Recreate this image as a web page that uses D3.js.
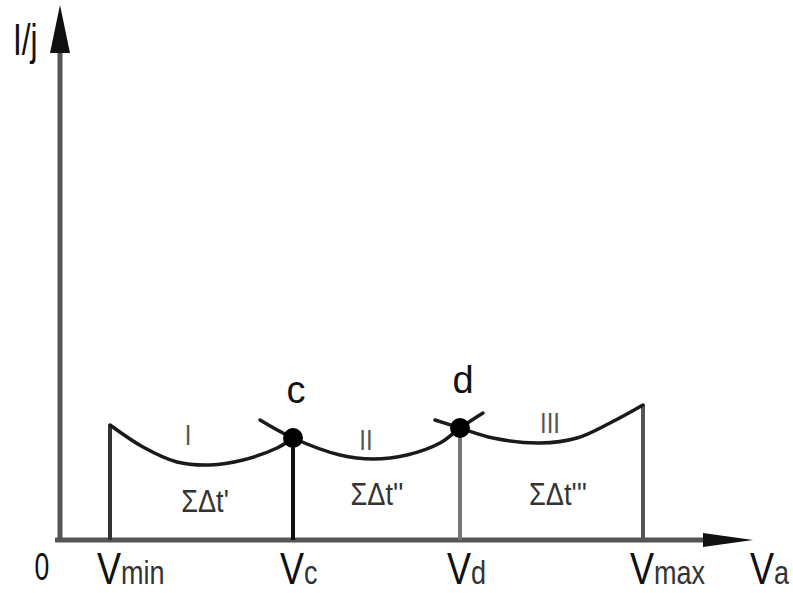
<!DOCTYPE html>
<html>
<head>
<meta charset="utf-8">
<script src="https://cdn.jsdelivr.net/npm/d3@7"></script>
<style>
  html, body { margin: 0; padding: 0; background: #fff; }
  svg { display: block; }
  text { font-family: "Liberation Sans", Arial, sans-serif; }
</style>
</head>
<body>
<svg id="chart" width="793" height="593"></svg>
<script>
// ---- data (schematic units) ----
const tickNames = ["V", "V", "V", "V"];
const tickSubs = ["min", "c", "d", "max"];
const tickValues = [50, 233, 400, 583];
const boundaryHeights = [115, 102, 112, 135];

const curveI = [[50,115],[83,93],[117,78],[150,75],[183,80],[217,92],[233,102]];
const curveII = [[200,120],[233,102],[280,85],[313,81],[347,85],[380,97],[400,112],[423,127]];
const curveIII = [[375,120],[400,112],[433,102],[480,97],[517,102],[550,117],[583,135]];

const pointNames = ["c", "d"];
const pointValues = [[233,102],[400,112]];

const regionNames = ["I", "II", "III"];
const regionPos = [[128,95],[306,90],[490,107]];
const sumNames = ["ΣΔt'", "ΣΔt''", "ΣΔt'''"];
const sumPos = [[145,28],[317,35],[498,35]];

const xMaxValue = 693;
const yMaxValue = 535;

// ---- scales ----
const svg = d3.select("#chart");
const x = d3.scaleLinear().domain([0, 700]).range([60, 760]);
const y = d3.scaleLinear().domain([0, 540]).range([540, 0]);

const line = d3.line().x(d => x(d[0])).y(d => y(d[1])).curve(d3.curveCatmullRom.alpha(0.5));

// ---- axes ----
svg.append("line")
  .attr("x1", x(-5)).attr("y1", y(0)).attr("x2", x(xMaxValue) - 40).attr("y2", y(0))
  .attr("stroke", "#555").attr("stroke-width", 5);
svg.append("path")
  .attr("d", `M${x(xMaxValue)},${y(0)} L${x(xMaxValue)-50},${y(0)-7} L${x(xMaxValue)-50},${y(0)+7} Z`)
  .attr("fill", "#111");

svg.append("line")
  .attr("x1", x(0)).attr("y1", y(0)).attr("x2", x(0)).attr("y2", y(yMaxValue) + 40)
  .attr("stroke", "#555").attr("stroke-width", 5);
svg.append("path")
  .attr("d", `M${x(0)},${y(yMaxValue)} L${x(0)-10},${y(yMaxValue)+48} L${x(0)+10},${y(yMaxValue)+48} Z`)
  .attr("fill", "#111");

// ---- boundary verticals ----
const vColors = ["#333", "#111", "#777", "#555"];
svg.selectAll(".vline").data(tickValues).enter().append("line")
  .attr("x1", d => x(d)).attr("x2", d => x(d))
  .attr("y1", y(0)).attr("y2", (d, i) => y(boundaryHeights[i]))
  .attr("stroke", (d, i) => vColors[i]).attr("stroke-width", 4);

// ---- curves ----
[curveI, curveII, curveIII].forEach(c => {
  svg.append("path").attr("d", line(c))
    .attr("fill", "none").attr("stroke", "#1a1a1a").attr("stroke-width", 3.5)
    .attr("stroke-linecap", "round");
});

// ---- points ----
svg.selectAll(".pt").data(pointValues).enter().append("circle")
  .attr("cx", d => x(d[0])).attr("cy", d => y(d[1])).attr("r", 10).attr("fill", "#000");

svg.selectAll(".ptlabel").data(pointValues).enter().append("text")
  .attr("x", d => x(d[0]) + 3)
  .attr("y", d => y(d[1]) - 35)
  .attr("text-anchor", "middle").attr("font-size", 38).attr("fill", "#111")
  .text((d, i) => pointNames[i]);

// ---- region labels ----
svg.selectAll(".reg").data(regionPos).enter().append("text")
  .attr("transform", d => `translate(${x(d[0])},${y(d[1])}) scale(0.8,1)`)
  .attr("text-anchor", "middle").attr("font-size", 30).attr("fill", "#555")
  .text((d, i) => regionNames[i]);

svg.selectAll(".sum").data(sumPos).enter().append("text")
  .attr("transform", d => `translate(${x(d[0])},${y(d[1])}) scale(0.85,1)`)
  .attr("text-anchor", "middle").attr("font-size", 32).attr("fill", "#333")
  .text((d, i) => sumNames[i]);

// ---- tick labels ----
const tl = svg.selectAll(".tick").data(tickValues).enter().append("text")
  .attr("transform", d => `translate(${x(d) - 13},584) scale(0.82,1)`)
  .attr("font-size", 44).attr("fill", "#111");
tl.append("tspan").text((d, i) => tickNames[i]);
tl.append("tspan").attr("font-size", 33).attr("fill", "#333").text((d, i) => tickSubs[i]);

svg.append("text")
  .attr("transform", `translate(${x(0) - 18},580) scale(0.7,1)`)
  .attr("text-anchor", "middle").attr("font-size", 38).attr("fill", "#111").text("0");

const va = svg.append("text")
  .attr("transform", `translate(${x(xMaxValue) - 3},584) scale(0.82,1)`)
  .attr("font-size", 44).attr("fill", "#111");
va.append("tspan").text("V");
va.append("tspan").attr("font-size", 33).attr("fill", "#333").text("a");

svg.append("text")
  .attr("transform", `translate(13,55) scale(0.72,1)`)
  .attr("font-size", 44).attr("fill", "#111").text("I/j");
</script>
</body>
</html>
